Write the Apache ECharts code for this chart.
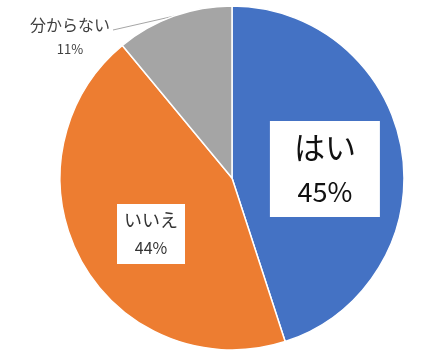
<!DOCTYPE html>
<html>
<head>
<meta charset="utf-8">
<script src="https://cdn.jsdelivr.net/npm/echarts@6/dist/echarts.min.js"></script>
<style>html,body{margin:0;padding:0;background:#fff;}#c{width:421px;height:358px;}</style>
</head>
<body>
<div id="c"></div>
<script>
const categories = ['はい', 'いいえ', '分からない'];
const values = [45, 44, 11];
const colors = ['#4472C4', '#ED7D31', '#A5A5A5'];

const chart = echarts.init(document.getElementById('c'), null, {renderer: 'canvas'});
const FONT = '"Noto Sans CJK JP", "Noto Sans", sans-serif';
const CX = 232, CY = 178, R = 172;

const data = categories.map((name, i) => {
  const item = {name: name, value: values[i], itemStyle: {color: colors[i]}};
  if (i === 0) {
    item.label = {
      show: true, position: 'inside', offset: [5, 5],
      formatter: '{a|{b}}\n{b|{d}%}',
      backgroundColor: '#fff', padding: [3, 24],
      rich: {
        a: {fontSize: 31, lineHeight: 46, color: '#111', fontFamily: FONT, align: 'center'},
        b: {fontSize: 27, lineHeight: 44, color: '#111', fontFamily: FONT, align: 'center'}
      }
    };
    item.labelLine = {show: false};
  } else if (i === 1) {
    item.label = {
      show: true, position: 'inside', offset: [-3, 13],
      formatter: '{a|{b}}\n{b|{d}%}',
      backgroundColor: '#fff', padding: [2, 7],
      rich: {
        a: {fontSize: 18, lineHeight: 28, color: '#333', fontFamily: FONT, align: 'center'},
        b: {fontSize: 16, lineHeight: 28, color: '#333', fontFamily: FONT, align: 'center'}
      }
    };
    item.labelLine = {show: false};
  } else {
    item.label = {
      show: true, position: 'outside',
      formatter: '{a|{b}}\n{b|{d}%}',
      rich: {
        a: {fontSize: 16, lineHeight: 24, color: '#404040', fontFamily: FONT, align: 'center'},
        b: {fontSize: 13, lineHeight: 24, color: '#404040', fontFamily: FONT, align: 'center'}
      }
    };
    item.labelLine = {show: true, lineStyle: {color: '#A6A6A6', width: 1}};
  }
  return item;
});

// mid-angle edge point of the last slice (clockwise from 12 o'clock)
const total = values.reduce((a, b) => a + b, 0);
const before = values.slice(0, 2).reduce((a, b) => a + b, 0);
const midFrac = (before + values[2] / 2) / total;
const ang = midFrac * 2 * Math.PI;
const edge = [CX + R * Math.sin(ang), CY - R * Math.cos(ang)];

chart.setOption({
  animation: false,
  backgroundColor: '#fff',
  series: [{
    type: 'pie',
    center: [CX, CY],
    radius: R,
    startAngle: 90,
    clockwise: true,
    avoidLabelOverlap: false,
    itemStyle: {borderColor: '#fff', borderWidth: 1.5},
    emphasis: {disabled: true},
    data: data,
    labelLayout: function (params) {
      if (params.dataIndex !== 2) return {};
      return {
        x: 70, y: 37, align: 'center', verticalAlign: 'middle',
        labelLinePoints: [edge, [113, 30], [113, 30]]
      };
    }
  }]
});
</script>
</body>
</html>
